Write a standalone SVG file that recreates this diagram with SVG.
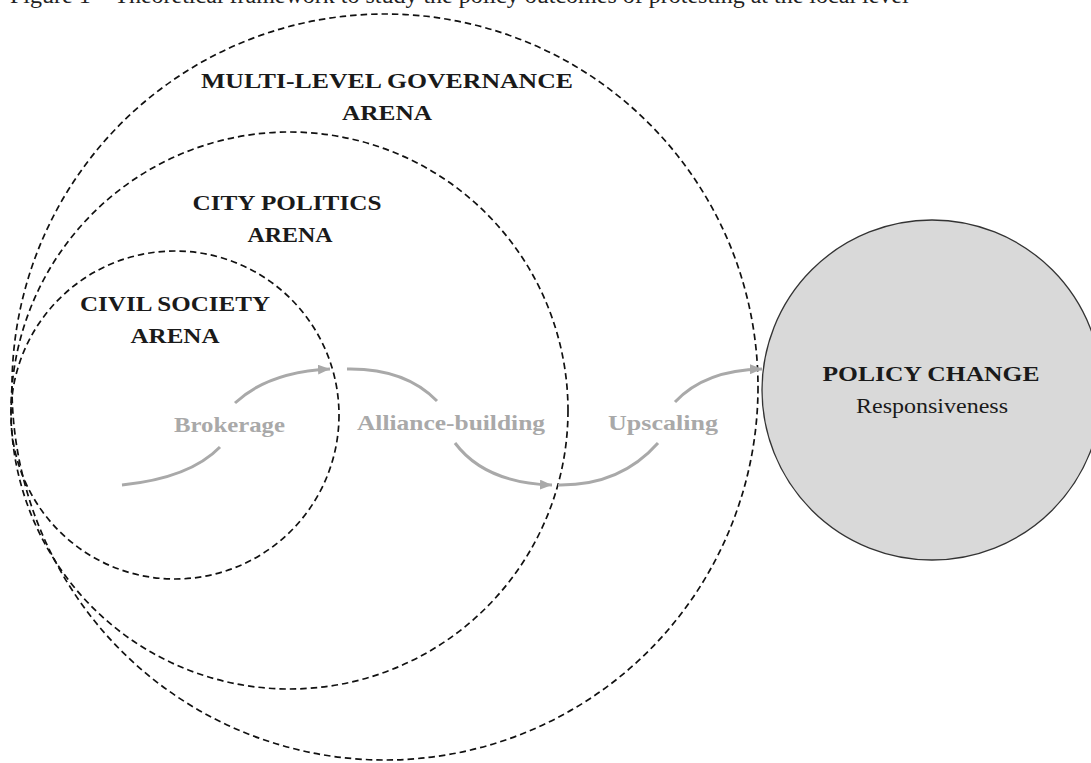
<svg xmlns="http://www.w3.org/2000/svg" width="1091" height="763" viewBox="0 0 1091 763">
  <style>
    .arena { fill: none; stroke: #111; stroke-width: 1.7; stroke-dasharray: 6.5 4; }
    .label { font-family: "Liberation Serif", "Times New Roman", serif; font-weight: bold; font-size: 22px; fill: #1a1a1a; text-anchor: middle; }
    .sub { font-family: "Liberation Serif", "Times New Roman", serif; font-size: 21px; fill: #1a1a1a; text-anchor: middle; }
    .step { font-family: "Liberation Serif", "Times New Roman", serif; font-weight: bold; font-size: 21px; fill: #a9a9a9; text-anchor: middle; }
    .flow { fill: none; stroke: #a9a9a9; stroke-width: 3; }
    .caption { font-family: "Liberation Serif", "Times New Roman", serif; font-size: 24px; fill: #222; }
  </style>
  <defs>
    <marker id="head" markerUnits="userSpaceOnUse" markerWidth="13" markerHeight="10" refX="12" refY="5" orient="auto">
      <path d="M0,0 L12,5 L0,10 z" fill="#a9a9a9"/>
    </marker>
  </defs>

  <rect width="1091" height="763" fill="#fff"/>

  <!-- caption line, mostly above the top edge -->
  <text class="caption" x="10" y="3">Figure 1 – Theoretical framework to study the policy outcomes of protesting at the local level</text>

  <!-- outcome -->
  <g id="policy-change">
    <circle cx="932" cy="390" r="170" fill="#d9d9d9" stroke="#333" stroke-width="1.3"/>
    <text class="label" x="931" y="381" textLength="217" lengthAdjust="spacingAndGlyphs">POLICY CHANGE</text>
    <text class="sub" x="932" y="413" textLength="152" lengthAdjust="spacingAndGlyphs">Responsiveness</text>
  </g>

  <!-- nested arenas -->
  <g id="multi-level-governance">
    <circle class="arena" cx="385" cy="387" r="373"/>
    <text class="label" x="387" y="88" textLength="372" lengthAdjust="spacingAndGlyphs">MULTI-LEVEL GOVERNANCE</text>
    <text class="label" x="387" y="120" textLength="90" lengthAdjust="spacingAndGlyphs">ARENA</text>
  </g>
  <g id="city-politics">
    <circle class="arena" cx="289.5" cy="410.5" r="278.5"/>
    <text class="label" x="287" y="210" textLength="189" lengthAdjust="spacingAndGlyphs">CITY POLITICS</text>
    <text class="label" x="290" y="242" textLength="85" lengthAdjust="spacingAndGlyphs">ARENA</text>
  </g>
  <g id="civil-society">
    <circle class="arena" cx="175" cy="415" r="164"/>
    <text class="label" x="175" y="311" textLength="190" lengthAdjust="spacingAndGlyphs">CIVIL SOCIETY</text>
    <text class="label" x="175" y="343" textLength="89" lengthAdjust="spacingAndGlyphs">ARENA</text>
  </g>

  <!-- mechanisms -->
  <g id="brokerage">
    <text class="step" x="229.5" y="432" textLength="111" lengthAdjust="spacingAndGlyphs">Brokerage</text>
  </g>
  <g id="alliance-building">
    <text class="step" x="451" y="430" textLength="188" lengthAdjust="spacingAndGlyphs">Alliance-building</text>
  </g>
  <g id="upscaling">
    <text class="step" x="663" y="430" textLength="110" lengthAdjust="spacingAndGlyphs">Upscaling</text>
  </g>

  <!-- connectors -->
  <g id="connectors">
    <path class="flow" d="M122,485 Q190,478 220,447"/>
    <path class="flow" d="M235,403 Q268,372 330,369" marker-end="url(#head)"/>
    <path class="flow" d="M347,369 Q405,368 437,401"/>
    <path class="flow" d="M455,443 Q485,483 552,485" marker-end="url(#head)"/>
    <path class="flow" d="M558,485 Q620,486 658,443"/>
    <path class="flow" d="M675,402 Q705,370 762,369" marker-end="url(#head)"/>
  </g>
</svg>
